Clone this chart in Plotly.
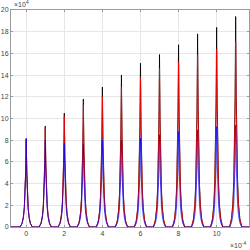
import plotly.graph_objects as go

# Peak centres (x, in units of 1e-4) and peak heights (y, in units of 1e4)
centers = [0, 1, 2, 3, 4, 5, 6, 7, 8, 9, 10, 11]
black_peaks = [8.1, 9.3, 10.5, 11.8, 12.9, 14.0, 15.1, 15.9, 16.8, 17.8, 18.4, 19.4]
red_peaks = [8.0, 9.15, 10.2, 11.25, 12.0, 12.9, 13.8, 14.6, 15.2, 15.85, 16.4, 17.1]
blue_peaks = [8.2, 8.0, 7.7, 7.6, 8.0, 8.0, 8.2, 8.5, 8.8, 8.95, 9.25, 9.4]

# Peak shape: offset from centre and relative height
profile_dx = [-0.32, -0.22, -0.15, -0.1, -0.07, -0.05, -0.03, -0.015, 0.0,
              0.015, 0.03, 0.05, 0.07, 0.1, 0.15, 0.22, 0.32]
profile_rel = [0.0, 0.04, 0.11, 0.22, 0.33, 0.45, 0.62, 0.8, 1.0,
               0.8, 0.62, 0.45, 0.33, 0.22, 0.11, 0.04, 0.0]

x_start, x_end = -0.8, 11.7


def build(heights):
    xs, ys = [x_start], [0.0]
    for c, h in zip(centers, heights):
        for dx, r in zip(profile_dx, profile_rel):
            xs.append(c + dx)
            ys.append(h * r)
    xs.append(x_end)
    ys.append(0.0)
    return xs, ys


fig = go.Figure()
for heights, color in [(black_peaks, "rgba(0,0,0,0.85)"),
                       (red_peaks, "rgba(255,0,0,0.8)"),
                       (blue_peaks, "rgba(0,0,255,0.65)")]:
    xs, ys = build(heights)
    fig.add_trace(go.Scatter(x=xs, y=ys, mode="lines",
                             line=dict(color=color, width=1),
                             showlegend=False, hoverinfo="skip"))

axis_common = dict(showline=True, linecolor="#9a9a9a", linewidth=1,
                   mirror="ticks", ticks="inside", ticklen=2, tickcolor="#9a9a9a",
                   showgrid=True, gridcolor="#e6e6e6", gridwidth=1, zeroline=False,
                   automargin=False,
                   tickfont=dict(family="Liberation Sans", size=7, color="#444444"))

fig.update_layout(
    width=250, height=250,
    margin=dict(l=11, r=1, t=10, b=23),
    paper_bgcolor="white", plot_bgcolor="white",
    xaxis=dict(range=[x_start, x_end], tickvals=[0, 2, 4, 6, 8, 10], **axis_common),
    yaxis=dict(range=[0, 20], tickvals=list(range(0, 21, 2)), **axis_common),
    annotations=[
        dict(text="×10<sup>4</sup>", x=0, y=1, xref="paper", yref="paper",
             xanchor="left", yanchor="bottom", showarrow=False, xshift=1,
             font=dict(family="Liberation Sans", size=7, color="#444444")),
        dict(text="×10<sup>-4</sup>", x=1, y=0, xref="paper", yref="paper",
             xanchor="right", yanchor="top", showarrow=False, yshift=-12,
             font=dict(family="Liberation Sans", size=7, color="#444444")),
    ],
)

fig.write_html("out.html",
               config={"displayModeBar": False, "staticPlot": True},
               post_script="document.body.style.margin='0';document.body.style.overflow='hidden';")
